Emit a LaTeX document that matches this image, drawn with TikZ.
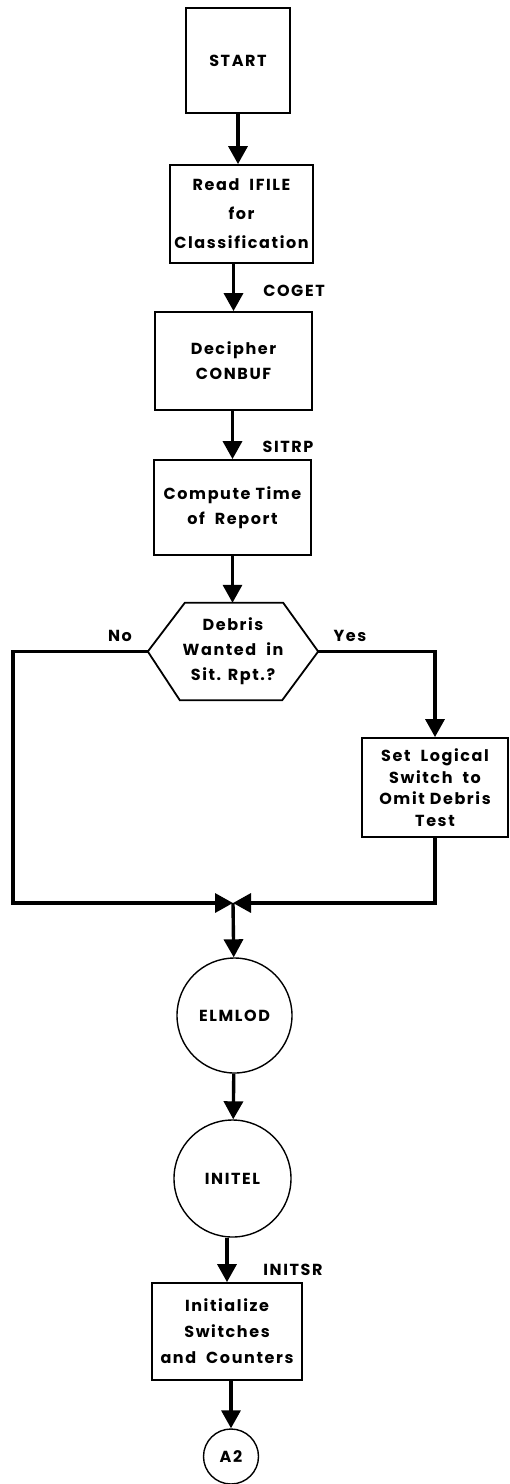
\documentclass[tikz,border=0pt]{standalone}
\usepackage{fontspec}
\setmainfont{Poppins}[LetterSpace=10]
\usepackage{tikz}
\usetikzlibrary{arrows.meta, positioning, calc}

\begin{document}
\begin{tikzpicture}[
  x=1pt, y=-1pt,
  font=\fontsize{16}{25}\selectfont\bfseries,
  box/.style={draw, line width=1.8pt, align=center, inner sep=2pt},
  conn/.style={draw, line width=1.4pt, circle, inner sep=0pt},
  flow/.style={-{Triangle[width=19pt, length=18pt]}, line width=3.4pt},
  tag/.style={inner sep=0pt}
]
  \useasboundingbox (0,0) rectangle (509,1484);

  \node[box, minimum width=104pt, minimum height=105pt] (start) at (238,60.5) {START};
  \node[box, minimum width=143pt, minimum height=98pt, font=\fontsize{16}{29}\selectfont\bfseries]
    (read) at (241.5,214) {Read \ IFILE\\for\\Classification};
  \node[box, minimum width=157pt, minimum height=98pt] (dec) at (233.5,361)
    {Decipher\\CONBUF};
  \node[box, minimum width=157pt, minimum height=95pt] (comp) at (232.5,507.5)
    {Compute Time\\of \ Report};

  % hexagon for the decision
  \node[align=center, minimum width=170pt, minimum height=97pt, inner sep=0pt] (debris) at (233,651.5)
    {Debris\\Wanted \ in\\Sit. Rpt.?};
  \draw[line width=1.8pt] (debris.west) -- ($(debris.north west)+(37,0)$)
    -- ($(debris.north east)+(-35,0)$) -- (debris.east)
    -- ($(debris.south east)+(-36,0)$) -- ($(debris.south west)+(32,0)$) -- cycle;

  \node[box, minimum width=146pt, minimum height=99pt, font=\fontsize{16}{21.5}\selectfont\bfseries]
    (setsw) at (435,787.5) {Set \ Logical\\Switch \ to\\Omit Debris\\Test};

  \coordinate (merge) at (233,903);
  \coordinate (nocorner) at (13,903);

  \node[conn, minimum size=115pt] (elm) at (234.5,1015.5) {ELMLOD};
  \node[conn, minimum size=117pt] (initel) at (232.5,1178.5) {INITEL};
  \node[box, minimum width=150pt, minimum height=97pt, font=\fontsize{16}{26}\selectfont\bfseries]
    (init) at (227,1331.5) {Initialize\\Switches\\and \ Counters};
  \node[conn, minimum size=55pt] (atwo) at (231,1456.5) {A2};

  % subroutine names
  \node[tag] (coget) at (294,291) {COGET};
  \node[tag] (sitrp) at (288,447) {SITRP};
  \node[tag] (initsr) at (293,1270) {INITSR};
  \node[tag] (no) at (120,636) {No};
  \node[tag] (yes) at (350,636) {Yes};

  \draw[flow] (start) -- (start |- read.north);
  \draw[flow] (read.south -| dec) -- (dec);
  \draw[flow] (dec.south -| comp) -- (comp);
  \draw[flow] (comp) -- (comp |- debris.north);
  \draw[flow] (debris.east) -| (setsw.north);
  \draw[flow] (debris.west) -| (nocorner) -- (merge);
  \draw[flow] (setsw.south) |- (merge);
  \draw[flow] (merge) -- (elm);
  \draw[flow] (elm) -- (initel);
  \draw[flow] (initel.south -| init) -- (init);
  \draw[flow] (init.south -| atwo) -- (atwo);
\end{tikzpicture}
\end{document}
